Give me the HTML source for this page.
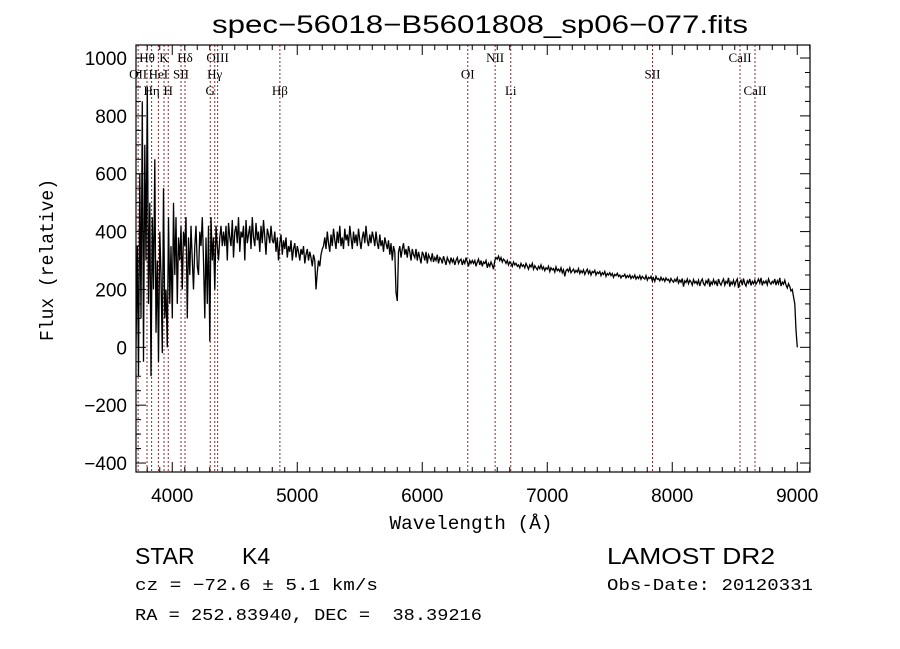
<!DOCTYPE html>
<html><head><meta charset="utf-8"><style>
html,body{margin:0;padding:0;background:#fff;}
svg{display:block;font-family:"Liberation Sans",sans-serif;}
</style></head><body>
<svg id="chart" width="900" height="649" viewBox="0 0 900 649">
<defs><clipPath id="clip"><rect x="136" y="45" width="674" height="427"/></clipPath></defs>
<rect width="900" height="649" fill="#fff"/>
<text x="480" y="33" text-anchor="middle" font-size="25" textLength="536" lengthAdjust="spacingAndGlyphs" font-family="Liberation Sans, sans-serif">spec−56018−B5601808_sp06−077.fits</text>
<g id="lines" clip-path="url(#clip)"></g>
<g id="labels"></g>
<path id="spec" clip-path="url(#clip)" fill="none" stroke="#000" stroke-width="1.3"/>
<rect x="136" y="45" width="674" height="427" fill="none" stroke="#000" stroke-width="1.2"/>
<g id="ticks" stroke="#000" stroke-width="1"></g>
<g id="ticklabels" font-size="19"></g>
<text x="471" y="529" text-anchor="middle" font-size="19" textLength="163" lengthAdjust="spacingAndGlyphs" font-family="Liberation Mono, monospace">Wavelength (Å)</text>
<text transform="translate(53,260) rotate(-90)" text-anchor="middle" font-size="19" textLength="162" lengthAdjust="spacingAndGlyphs" font-family="Liberation Mono, monospace">Flux (relative)</text>
<text x="135" y="564" font-size="23" font-family="Liberation Sans, sans-serif">STAR</text>
<text x="242" y="564" font-size="23" font-family="Liberation Sans, sans-serif">K4</text>
<text x="607" y="564" font-size="23" textLength="168" lengthAdjust="spacingAndGlyphs" font-family="Liberation Sans, sans-serif">LAMOST DR2</text>
<text x="135" y="590" font-size="17" textLength="243" lengthAdjust="spacingAndGlyphs" font-family="Liberation Mono, monospace">cz = −72.6 ± 5.1 km/s</text>
<text x="607" y="590" font-size="17" textLength="206" lengthAdjust="spacingAndGlyphs" font-family="Liberation Mono, monospace">Obs-Date: 20120331</text>
<text x="135" y="620" font-size="17" textLength="347" lengthAdjust="spacingAndGlyphs" font-family="Liberation Mono, monospace" xml:space="preserve">RA = 252.83940, DEC =  38.39216</text>
</svg>
<script>
const wlStart = 3710, wlStep = 10;
const flux = [0,350,-100,600,100,850,-50,700,300,900,150,500,-100,450,200,650,50,300,-50,400,250,-20,550,100,200,0,450,150,350,100,
500,250,450,150,380,300,420,200,400,350,450,100,380,250,420,300,200,350,420,280,250,400,350,450,300,100,380,150,420,20,450,300,380,200,420,350,300,380,420,350,
400,350,420,300,430,380,350,440,310,400,420,360,450,330,400,380,420,300,440,360,390,420,340,450,380,350,430,370,400,330,420,360,440,380,320,410,390,360,420,370,
360,400,330,380,300,360,390,320,370,340,380,310,350,330,370,300,340,360,310,350,330,300,340,320,350,290,320,340,300,330,310,280,320,300,200,260,300,280,320,340,
350,380,340,400,360,330,390,350,410,370,340,400,360,420,350,380,340,410,370,390,350,420,380,340,400,360,390,350,410,370,340,380,400,360,420,370,350,390,360,400,
380,350,400,360,340,390,350,370,330,380,360,340,370,320,360,300,350,330,190,160,330,350,310,340,360,320,340,310,350,330,300,340,320,310,340,300,330,310,290,330,
320,300,330,290,320,310,300,325,295,310,300,320,290,310,305,290,315,300,285,310,300,290,310,295,305,285,300,310,290,300,305,285,300,290,310,295,280,300,290,300,
290,300,280,295,305,285,300,280,295,290,300,275,290,280,295,285,270,300,310,305,315,300,310,295,305,300,290,300,285,295,290,280,295,285,290,280,285,275,290,280,
285,275,290,280,270,285,278,290,270,282,275,268,280,272,285,270,278,265,275,270,280,262,275,268,272,260,278,265,270,262,275,258,268,245,265,270,262,275,258,265,
270,258,266,260,272,255,265,258,268,252,262,270,255,265,250,262,258,266,250,260,255,262,248,258,252,262,245,255,250,258,248,255,242,252,248,256,245,250,240,248,
245,252,240,248,242,250,238,246,240,250,236,244,238,248,235,245,240,236,248,232,242,238,245,230,240,228,245,235,238,230,242,232,238,228,240,232,235,225,238,230,
225,235,228,240,222,232,225,238,210,230,224,236,220,232,226,215,234,222,228,218,232,212,228,236,220,214,230,222,238,210,226,218,234,220,228,212,236,222,215,228,
236,215,228,222,240,210,226,218,232,214,228,236,205,225,232,215,238,220,212,230,222,236,214,228,220,232,218,226,236,222,240,214,228,222,230,216,236,224,218,228,
222,236,215,230,220,240,212,225,218,232,215,205,220,210,195,200,175,150,60,0];
const lineWl = [3727,3798,3835,3889,3934,3968,4070,4102,4304,4340,4363,4861,6364,6583,6708,7842,8542,8662];
const lineNames = ["OII","Hθ","Hη","HeI","K","H","SII","Hδ","G","Hγ","OIII","Hβ","OI","NII","Li","SII","CaII","CaII"];
const lineRows = [1,0,2,1,0,2,1,0,2,1,0,2,1,0,2,1,0,2];
const xTicks = [4000,5000,6000,7000,8000,9000];
const yTicks = [-400,-200,0,200,400,600,800,1000];

const NS="http://www.w3.org/2000/svg";
const X0=136,X1=810,Y0=45,Y1=472, xMin=3710, xMax=9102, yMin=-431, yMax=1045;
const sx=w=>X0+(w-xMin)/(xMax-xMin)*(X1-X0);
const sy=v=>Y1-(v-yMin)/(yMax-yMin)*(Y1-Y0);
function mk(tag,parent,attrs){const e=document.createElementNS(NS,tag);for(const k in attrs)e.setAttribute(k,attrs[k]);parent.appendChild(e);return e;}

let d="";
flux.forEach((v,i)=>{const x=sx(wlStart+i*wlStep),y=sy(v);d+=(i?"L":"M")+x.toFixed(1)+","+y.toFixed(1);});
document.getElementById("spec").setAttribute("d",d);

const lg=document.getElementById("lines"), lb=document.getElementById("labels");
lineWl.forEach((w,i)=>{
  const x=sx(w);
  const l=mk("line",lg,{x1:x,x2:x,y1:Y0,y2:Y1,stroke:"#8b2a2a","stroke-width":1,"stroke-dasharray":"2,2"});
  
  
  const t=mk("text",lb,{x:x,y:62+lineRows[i]*16.5,"text-anchor":"middle","font-size":13,"font-family":"Liberation Serif, serif"});
  t.textContent=lineNames[i];
  
  
});

const tg=document.getElementById("ticks"), tl=document.getElementById("ticklabels");
for(let w=3800;w<=9100;w+=100){
  const x=sx(w), maj=w%1000===0, L=maj?10:5;
  const a=mk("line",tg,{x1:x,x2:x,y1:Y1,y2:Y1-L});
  
  
  const b=mk("line",tg,{x1:x,x2:x,y1:Y0,y2:Y0+L});
  
  
}
for(let v=-400;v<=1000;v+=50){
  const y=sy(v), maj=v%200===0, L=maj?10:5;
  const a=mk("line",tg,{x1:X0,x2:X0+L,y1:y,y2:y});
  
  
  const b=mk("line",tg,{x1:X1,x2:X1-L,y1:y,y2:y});
  
  
}
xTicks.forEach(w=>{
  const t=mk("text",tl,{x:sx(w),y:502,"text-anchor":"middle"});
  t.textContent=w;
  
  
});
yTicks.forEach(v=>{
  const t=mk("text",tl,{x:127,y:sy(v)+7,"text-anchor":"end"});
  t.textContent=v<0?"−"+(-v):v;
  
  
});
</script>
</body></html>
